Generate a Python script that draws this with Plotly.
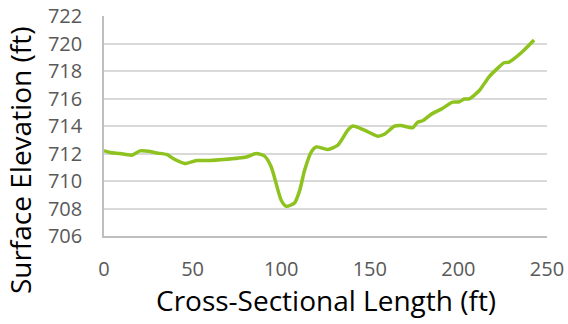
import plotly.graph_objects as go

length_ft = [0, 3.4, 9, 15.6, 20.3, 25, 29.7, 35.3, 40, 45.6, 52.2, 59.7, 67.2, 80.3, 86, 90.7,
             94.4, 100, 102.9, 107.5, 110.4, 113.2, 117, 119.8, 126.3, 131.9, 137.6, 140.4, 147,
             154.5, 158.2, 163.9, 167.6, 174.2, 177, 179.8, 184.5, 191, 196.7, 200.5, 203.3,
             206.1, 211.7, 217.3, 223, 225.7, 228.6, 236.1, 242.7]
elevation_ft = [712.2, 712.07, 712.0, 711.88, 712.19, 712.17, 712.04, 711.93, 711.56, 711.27,
                711.49, 711.49, 711.56, 711.75, 712.0, 711.8, 711.02, 708.6, 708.16, 708.4,
                709.3, 710.78, 712.12, 712.48, 712.29, 712.6, 713.7, 714.0, 713.7, 713.26, 713.4,
                713.99, 714.04, 713.87, 714.28, 714.38, 714.84, 715.28, 715.74, 715.76, 715.96,
                715.98, 716.56, 717.58, 718.3, 718.6, 718.65, 719.4, 720.25]

x_ticks = [0, 50, 100, 150, 200, 250]
y_ticks = [706, 708, 710, 712, 714, 716, 718, 720, 722]
x_title = "Cross-Sectional Length (ft)"
y_title = "Surface Elevation (ft)"

fig = go.Figure()
fig.add_trace(go.Scatter(x=length_ft, y=elevation_ft, mode="lines",
                         line=dict(color="#8DC21F", width=3.5, shape="spline", smoothing=0.6),
                         showlegend=False))

font_family = "Open Sans"
fig.update_layout(
    width=568, height=324,
    margin=dict(l=104, r=21, t=16, b=88, autoexpand=False),
    paper_bgcolor="white", plot_bgcolor="white",
    font=dict(family=font_family, color="#595959"),
    annotations=[
        dict(text=x_title, xref="paper", yref="paper", x=0.502, y=-0.291,
             xanchor="center", yanchor="middle", showarrow=False,
             font=dict(size=28, color="black", family=font_family)),
        dict(text=y_title, xref="paper", yref="paper", x=-0.1896, y=0.345,
             xanchor="center", yanchor="middle", showarrow=False, textangle=-90,
             font=dict(size=28, color="black", family=font_family)),
    ],
)
fig.update_xaxes(range=[0, 250], tickvals=x_ticks, showgrid=False, automargin=False,
                 showline=True, linecolor="#BFBFBF", linewidth=1.5, ticklabeloverflow="allow",
                 tickfont=dict(size=20, color="#595959"), ticklabelstandoff=14,
                 zeroline=False)
fig.update_yaxes(range=[706, 722], tickvals=y_ticks, showgrid=True, gridcolor="#D9D9D9", gridwidth=1.5,
                 showline=True, linecolor="#BFBFBF", linewidth=1.5, automargin=False,
                 ticklabeloverflow="allow",
                 tickfont=dict(size=20, color="#595959"), ticklabelstandoff=16,
                 zeroline=False)

fig.write_html("out.html", config={"displayModeBar": False},
               post_script="document.body.style.margin='0';")
